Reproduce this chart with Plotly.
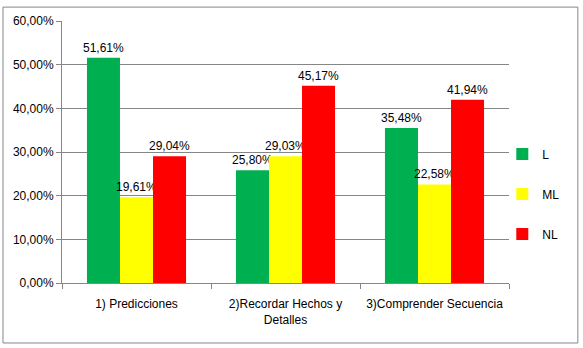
import plotly.graph_objects as go

categories = ["1) Predicciones", "2)Recordar Hechos y<br>Detalles", "3)Comprender Secuencia"]
series_names = ["L", "ML", "NL"]
L_vals = [0.5161, 0.2580, 0.3548]
ML_vals = [0.1961, 0.2903, 0.2258]
NL_vals = [0.2904, 0.4517, 0.4194]
colors = ["#00B050", "#FFFF00", "#FF0000"]
y_ticks = [0, 0.1, 0.2, 0.3, 0.4, 0.5, 0.6]

fig = go.Figure()
for name, vals, col in zip(series_names, [L_vals, ML_vals, NL_vals], colors):
    fig.add_trace(go.Bar(
        x=categories, y=vals, name=name, marker_color=col, marker_line_width=0,
        text=[f"{v*100:.2f}%".replace(".", ",") for v in vals],
        textposition="outside", cliponaxis=False, constraintext="none",
        textfont=dict(size=12, color="black", family="Liberation Sans"),
        legendgroup=name,
    ))

fig.update_layout(
    width=583, height=348,
    margin=dict(l=62, r=74, t=21, b=65, autoexpand=False),
    paper_bgcolor="white", plot_bgcolor="white",
    barmode="group", bargap=0.335, bargroupgap=0,
    separators=",.",
    font=dict(family="Liberation Sans", size=12, color="black"),
    showlegend=True,
    legend=dict(x=0.985, y=0.548, xanchor="left", yanchor="top",
                traceorder="grouped", tracegroupgap=21, itemwidth=30,
                font=dict(size=12), bgcolor="rgba(0,0,0,0)"),
)
fig.update_yaxes(range=[0, 0.6], tickvals=y_ticks, tickformat=".2%",
                 showgrid=True, gridcolor="#868686", gridwidth=1,
                 showline=True, linecolor="#868686", ticks="outside",
                 ticklen=5, tickcolor="#868686", zeroline=False,
                 ticklabelstandoff=0,
                 tickfont=dict(size=12, color="black"))
fig.update_xaxes(showline=True, linecolor="#868686", ticks="outside",
                 tickson="boundaries", ticklen=5, tickcolor="#868686",
                 ticklabelstandoff=10,
                 tickfont=dict(size=12, color="black"))
fig.add_shape(type="rect", xref="paper", yref="paper",
              x0=-0.132, x1=1.154, y0=-0.229, y1=1.053,
              line=dict(color="#868686", width=1), layer="below")
fig.write_html("out.html")
